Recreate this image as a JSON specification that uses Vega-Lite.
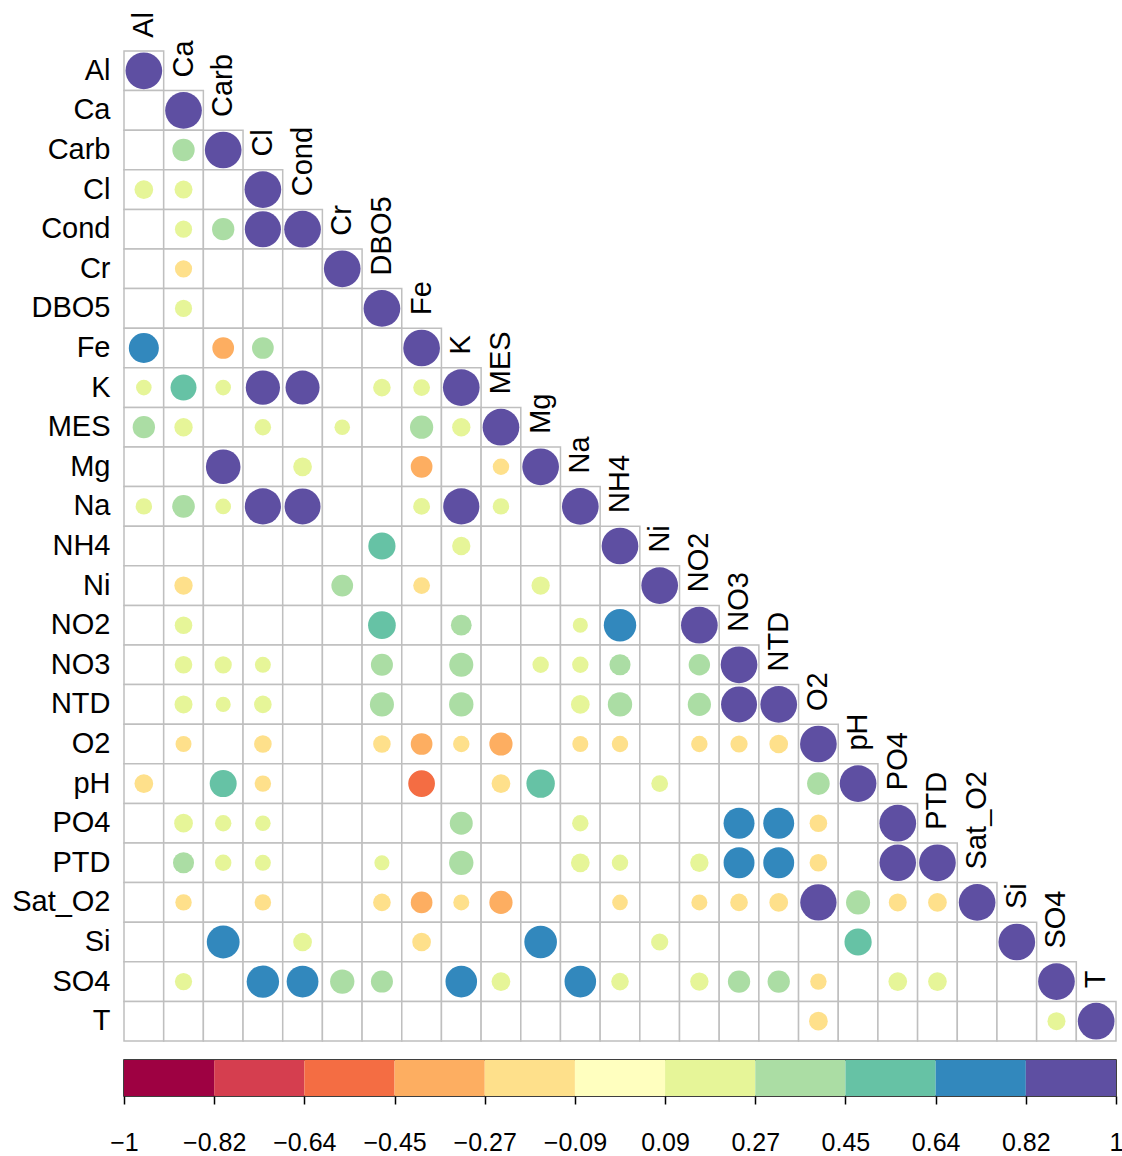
{
  "$schema": "https://vega.github.io/schema/vega-lite/v6.json",
  "background": "white",
  "padding": {"left": 11, "top": 12, "right": 0, "bottom": 0},
  "bounds": "flush",
  "spacing": 19,
  "config": {"font": "Liberation Sans", "view": {"stroke": null}},
  "datasets": {
    "cells": [
      {"r":"Al","c":"Al","v":1},
      {"r":"Ca","c":"Al"},{"r":"Ca","c":"Ca","v":1},
      {"r":"Carb","c":"Al"},{"r":"Carb","c":"Ca","v":0.37},{"r":"Carb","c":"Carb","v":1},
      {"r":"Cl","c":"Al","v":0.26},{"r":"Cl","c":"Ca","v":0.24},{"r":"Cl","c":"Carb"},{"r":"Cl","c":"Cl","v":1},
      {"r":"Cond","c":"Al"},{"r":"Cond","c":"Ca","v":0.22},{"r":"Cond","c":"Carb","v":0.37},{"r":"Cond","c":"Cl","v":0.97},{"r":"Cond","c":"Cond","v":1},
      {"r":"Cr","c":"Al"},{"r":"Cr","c":"Ca","v":-0.22},{"r":"Cr","c":"Carb"},{"r":"Cr","c":"Cl"},{"r":"Cr","c":"Cond"},{"r":"Cr","c":"Cr","v":1},
      {"r":"DBO5","c":"Al"},{"r":"DBO5","c":"Ca","v":0.22},{"r":"DBO5","c":"Carb"},{"r":"DBO5","c":"Cl"},{"r":"DBO5","c":"Cond"},{"r":"DBO5","c":"Cr"},{"r":"DBO5","c":"DBO5","v":1},
      {"r":"Fe","c":"Al","v":0.67},{"r":"Fe","c":"Ca"},{"r":"Fe","c":"Carb","v":-0.35},{"r":"Fe","c":"Cl","v":0.35},{"r":"Fe","c":"Cond"},{"r":"Fe","c":"Cr"},{"r":"Fe","c":"DBO5"},{"r":"Fe","c":"Fe","v":1},
      {"r":"K","c":"Al","v":0.18},{"r":"K","c":"Ca","v":0.5},{"r":"K","c":"Carb","v":0.18},{"r":"K","c":"Cl","v":0.87},{"r":"K","c":"Cond","v":0.86},{"r":"K","c":"Cr"},{"r":"K","c":"DBO5","v":0.23},{"r":"K","c":"Fe","v":0.21},{"r":"K","c":"K","v":1},
      {"r":"MES","c":"Al","v":0.37},{"r":"MES","c":"Ca","v":0.25},{"r":"MES","c":"Carb"},{"r":"MES","c":"Cl","v":0.2},{"r":"MES","c":"Cond"},{"r":"MES","c":"Cr","v":0.18},{"r":"MES","c":"DBO5"},{"r":"MES","c":"Fe","v":0.4},{"r":"MES","c":"K","v":0.25},{"r":"MES","c":"MES","v":1},
      {"r":"Mg","c":"Al"},{"r":"Mg","c":"Ca"},{"r":"Mg","c":"Carb","v":0.89},{"r":"Mg","c":"Cl"},{"r":"Mg","c":"Cond","v":0.26},{"r":"Mg","c":"Cr"},{"r":"Mg","c":"DBO5"},{"r":"Mg","c":"Fe","v":-0.35},{"r":"Mg","c":"K"},{"r":"Mg","c":"MES","v":-0.2},{"r":"Mg","c":"Mg","v":1},
      {"r":"Na","c":"Al","v":0.2},{"r":"Na","c":"Ca","v":0.38},{"r":"Na","c":"Carb","v":0.18},{"r":"Na","c":"Cl","v":0.97},{"r":"Na","c":"Cond","v":0.96},{"r":"Na","c":"Cr"},{"r":"Na","c":"DBO5"},{"r":"Na","c":"Fe","v":0.21},{"r":"Na","c":"K","v":0.97},{"r":"Na","c":"MES","v":0.2},{"r":"Na","c":"Mg"},{"r":"Na","c":"Na","v":1},
      {"r":"NH4","c":"Al"},{"r":"NH4","c":"Ca"},{"r":"NH4","c":"Carb"},{"r":"NH4","c":"Cl"},{"r":"NH4","c":"Cond"},{"r":"NH4","c":"Cr"},{"r":"NH4","c":"DBO5","v":0.55},{"r":"NH4","c":"Fe"},{"r":"NH4","c":"K","v":0.25},{"r":"NH4","c":"MES"},{"r":"NH4","c":"Mg"},{"r":"NH4","c":"Na"},{"r":"NH4","c":"NH4","v":1},
      {"r":"Ni","c":"Al"},{"r":"Ni","c":"Ca","v":-0.25},{"r":"Ni","c":"Carb"},{"r":"Ni","c":"Cl"},{"r":"Ni","c":"Cond"},{"r":"Ni","c":"Cr","v":0.35},{"r":"Ni","c":"DBO5"},{"r":"Ni","c":"Fe","v":-0.21},{"r":"Ni","c":"K"},{"r":"Ni","c":"MES"},{"r":"Ni","c":"Mg","v":0.25},{"r":"Ni","c":"Na"},{"r":"Ni","c":"NH4"},{"r":"Ni","c":"Ni","v":1},
      {"r":"NO2","c":"Al"},{"r":"NO2","c":"Ca","v":0.23},{"r":"NO2","c":"Carb"},{"r":"NO2","c":"Cl"},{"r":"NO2","c":"Cond"},{"r":"NO2","c":"Cr"},{"r":"NO2","c":"DBO5","v":0.57},{"r":"NO2","c":"Fe"},{"r":"NO2","c":"K","v":0.32},{"r":"NO2","c":"MES"},{"r":"NO2","c":"Mg"},{"r":"NO2","c":"Na","v":0.17},{"r":"NO2","c":"NH4","v":0.78},{"r":"NO2","c":"Ni"},{"r":"NO2","c":"NO2","v":1},
      {"r":"NO3","c":"Al"},{"r":"NO3","c":"Ca","v":0.23},{"r":"NO3","c":"Carb","v":0.22},{"r":"NO3","c":"Cl","v":0.19},{"r":"NO3","c":"Cond"},{"r":"NO3","c":"Cr"},{"r":"NO3","c":"DBO5","v":0.36},{"r":"NO3","c":"Fe"},{"r":"NO3","c":"K","v":0.43},{"r":"NO3","c":"MES"},{"r":"NO3","c":"Mg","v":0.2},{"r":"NO3","c":"Na","v":0.2},{"r":"NO3","c":"NH4","v":0.33},{"r":"NO3","c":"Ni"},{"r":"NO3","c":"NO2","v":0.34},{"r":"NO3","c":"NO3","v":1},
      {"r":"NTD","c":"Al"},{"r":"NTD","c":"Ca","v":0.24},{"r":"NTD","c":"Carb","v":0.17},{"r":"NTD","c":"Cl","v":0.23},{"r":"NTD","c":"Cond"},{"r":"NTD","c":"Cr"},{"r":"NTD","c":"DBO5","v":0.43},{"r":"NTD","c":"Fe"},{"r":"NTD","c":"K","v":0.44},{"r":"NTD","c":"MES"},{"r":"NTD","c":"Mg"},{"r":"NTD","c":"Na","v":0.26},{"r":"NTD","c":"NH4","v":0.44},{"r":"NTD","c":"Ni"},{"r":"NTD","c":"NO2","v":0.4},{"r":"NTD","c":"NO3","v":0.96},{"r":"NTD","c":"NTD","v":1},
      {"r":"O2","c":"Al"},{"r":"O2","c":"Ca","v":-0.19},{"r":"O2","c":"Carb"},{"r":"O2","c":"Cl","v":-0.23},{"r":"O2","c":"Cond"},{"r":"O2","c":"Cr"},{"r":"O2","c":"DBO5","v":-0.23},{"r":"O2","c":"Fe","v":-0.35},{"r":"O2","c":"K","v":-0.2},{"r":"O2","c":"MES","v":-0.4},{"r":"O2","c":"Mg"},{"r":"O2","c":"Na","v":-0.19},{"r":"O2","c":"NH4","v":-0.2},{"r":"O2","c":"Ni"},{"r":"O2","c":"NO2","v":-0.2},{"r":"O2","c":"NO3","v":-0.22},{"r":"O2","c":"NTD","v":-0.26},{"r":"O2","c":"O2","v":1},
      {"r":"pH","c":"Al","v":-0.26},{"r":"pH","c":"Ca"},{"r":"pH","c":"Carb","v":0.54},{"r":"pH","c":"Cl","v":-0.2},{"r":"pH","c":"Cond"},{"r":"pH","c":"Cr"},{"r":"pH","c":"DBO5"},{"r":"pH","c":"Fe","v":-0.53},{"r":"pH","c":"K"},{"r":"pH","c":"MES","v":-0.26},{"r":"pH","c":"Mg","v":0.6},{"r":"pH","c":"Na"},{"r":"pH","c":"NH4"},{"r":"pH","c":"Ni","v":0.21},{"r":"pH","c":"NO2"},{"r":"pH","c":"NO3"},{"r":"pH","c":"NTD"},{"r":"pH","c":"O2","v":0.38},{"r":"pH","c":"pH","v":1},
      {"r":"PO4","c":"Al"},{"r":"PO4","c":"Ca","v":0.26},{"r":"PO4","c":"Carb","v":0.2},{"r":"PO4","c":"Cl","v":0.18},{"r":"PO4","c":"Cond"},{"r":"PO4","c":"Cr"},{"r":"PO4","c":"DBO5"},{"r":"PO4","c":"Fe"},{"r":"PO4","c":"K","v":0.39},{"r":"PO4","c":"MES"},{"r":"PO4","c":"Mg"},{"r":"PO4","c":"Na","v":0.2},{"r":"PO4","c":"NH4"},{"r":"PO4","c":"Ni"},{"r":"PO4","c":"NO2"},{"r":"PO4","c":"NO3","v":0.71},{"r":"PO4","c":"NTD","v":0.71},{"r":"PO4","c":"O2","v":-0.23},{"r":"PO4","c":"pH"},{"r":"PO4","c":"PO4","v":1},
      {"r":"PTD","c":"Al"},{"r":"PTD","c":"Ca","v":0.33},{"r":"PTD","c":"Carb","v":0.2},{"r":"PTD","c":"Cl","v":0.19},{"r":"PTD","c":"Cond"},{"r":"PTD","c":"Cr"},{"r":"PTD","c":"DBO5","v":0.17},{"r":"PTD","c":"Fe"},{"r":"PTD","c":"K","v":0.44},{"r":"PTD","c":"MES"},{"r":"PTD","c":"Mg"},{"r":"PTD","c":"Na","v":0.26},{"r":"PTD","c":"NH4","v":0.2},{"r":"PTD","c":"Ni"},{"r":"PTD","c":"NO2","v":0.25},{"r":"PTD","c":"NO3","v":0.71},{"r":"PTD","c":"NTD","v":0.71},{"r":"PTD","c":"O2","v":-0.23},{"r":"PTD","c":"pH"},{"r":"PTD","c":"PO4","v":0.99},{"r":"PTD","c":"PTD","v":1},
      {"r":"Sat_O2","c":"Al"},{"r":"Sat_O2","c":"Ca","v":-0.2},{"r":"Sat_O2","c":"Carb"},{"r":"Sat_O2","c":"Cl","v":-0.2},{"r":"Sat_O2","c":"Cond"},{"r":"Sat_O2","c":"Cr"},{"r":"Sat_O2","c":"DBO5","v":-0.23},{"r":"Sat_O2","c":"Fe","v":-0.35},{"r":"Sat_O2","c":"K","v":-0.19},{"r":"Sat_O2","c":"MES","v":-0.4},{"r":"Sat_O2","c":"Mg"},{"r":"Sat_O2","c":"Na"},{"r":"Sat_O2","c":"NH4","v":-0.18},{"r":"Sat_O2","c":"Ni"},{"r":"Sat_O2","c":"NO2","v":-0.19},{"r":"Sat_O2","c":"NO3","v":-0.23},{"r":"Sat_O2","c":"NTD","v":-0.26},{"r":"Sat_O2","c":"O2","v":0.98},{"r":"Sat_O2","c":"pH","v":0.43},{"r":"Sat_O2","c":"PO4","v":-0.24},{"r":"Sat_O2","c":"PTD","v":-0.26},{"r":"Sat_O2","c":"Sat_O2","v":1},
      {"r":"Si","c":"Al"},{"r":"Si","c":"Ca"},{"r":"Si","c":"Carb","v":0.8},{"r":"Si","c":"Cl"},{"r":"Si","c":"Cond","v":0.26},{"r":"Si","c":"Cr"},{"r":"Si","c":"DBO5"},{"r":"Si","c":"Fe","v":-0.26},{"r":"Si","c":"K"},{"r":"Si","c":"MES"},{"r":"Si","c":"Mg","v":0.79},{"r":"Si","c":"Na"},{"r":"Si","c":"NH4"},{"r":"Si","c":"Ni","v":0.22},{"r":"Si","c":"NO2"},{"r":"Si","c":"NO3"},{"r":"Si","c":"NTD"},{"r":"Si","c":"O2"},{"r":"Si","c":"pH","v":0.55},{"r":"Si","c":"PO4"},{"r":"Si","c":"PTD"},{"r":"Si","c":"Sat_O2"},{"r":"Si","c":"Si","v":1},
      {"r":"SO4","c":"Al"},{"r":"SO4","c":"Ca","v":0.22},{"r":"SO4","c":"Carb"},{"r":"SO4","c":"Cl","v":0.78},{"r":"SO4","c":"Cond","v":0.75},{"r":"SO4","c":"Cr","v":0.44},{"r":"SO4","c":"DBO5","v":0.36},{"r":"SO4","c":"Fe"},{"r":"SO4","c":"K","v":0.74},{"r":"SO4","c":"MES","v":0.26},{"r":"SO4","c":"Mg"},{"r":"SO4","c":"Na","v":0.74},{"r":"SO4","c":"NH4","v":0.23},{"r":"SO4","c":"Ni"},{"r":"SO4","c":"NO2","v":0.25},{"r":"SO4","c":"NO3","v":0.37},{"r":"SO4","c":"NTD","v":0.37},{"r":"SO4","c":"O2","v":-0.2},{"r":"SO4","c":"pH"},{"r":"SO4","c":"PO4","v":0.26},{"r":"SO4","c":"PTD","v":0.26},{"r":"SO4","c":"Sat_O2"},{"r":"SO4","c":"Si"},{"r":"SO4","c":"SO4","v":1},
      {"r":"T","c":"Al"},{"r":"T","c":"Ca"},{"r":"T","c":"Carb"},{"r":"T","c":"Cl"},{"r":"T","c":"Cond"},{"r":"T","c":"Cr"},{"r":"T","c":"DBO5"},{"r":"T","c":"Fe"},{"r":"T","c":"K"},{"r":"T","c":"MES"},{"r":"T","c":"Mg"},{"r":"T","c":"Na"},{"r":"T","c":"NH4"},{"r":"T","c":"Ni"},{"r":"T","c":"NO2"},{"r":"T","c":"NO3"},{"r":"T","c":"NTD"},{"r":"T","c":"O2","v":-0.26},{"r":"T","c":"pH"},{"r":"T","c":"PO4"},{"r":"T","c":"PTD"},{"r":"T","c":"Sat_O2"},{"r":"T","c":"Si"},{"r":"T","c":"SO4","v":0.24},{"r":"T","c":"T","v":1}
    ],
    "bar": [
      {"lo":-1,"hi":-0.8182,"mid":-0.9091},
      {"lo":-0.8182,"hi":-0.6364,"mid":-0.7273},
      {"lo":-0.6364,"hi":-0.4545,"mid":-0.5455},
      {"lo":-0.4545,"hi":-0.2727,"mid":-0.3636},
      {"lo":-0.2727,"hi":-0.0909,"mid":-0.1818},
      {"lo":-0.0909,"hi":0.0909,"mid":0},
      {"lo":0.0909,"hi":0.2727,"mid":0.1818},
      {"lo":0.2727,"hi":0.4545,"mid":0.3636},
      {"lo":0.4545,"hi":0.6364,"mid":0.5455},
      {"lo":0.6364,"hi":0.8182,"mid":0.7273},
      {"lo":0.8182,"hi":1,"mid":0.9091}
    ]
  },
  "vconcat": [
    {
      "width": 992,
      "height": 990,
      "data": {"name": "cells"},
      "encoding": {
        "x": {"field": "c", "type": "nominal", "scale": {"domain": ["Al","Ca","Carb","Cl","Cond","Cr","DBO5","Fe","K","MES","Mg","Na","NH4","Ni","NO2","NO3","NTD","O2","pH","PO4","PTD","Sat_O2","Si","SO4","T"], "paddingInner": 0, "paddingOuter": 0}, "axis": null},
        "y": {"field": "r", "type": "nominal", "scale": {"domain": ["Al","Ca","Carb","Cl","Cond","Cr","DBO5","Fe","K","MES","Mg","Na","NH4","Ni","NO2","NO3","NTD","O2","pH","PO4","PTD","Sat_O2","Si","SO4","T"], "paddingInner": 0, "paddingOuter": 0}, "axis": {"title": null, "ticks": false, "domain": false, "grid": false, "labelFontSize": 29, "labelColor": "black", "labelPadding": 14, "labelFont": "Liberation Sans"}}
      },
      "layer": [
        {"mark": {"type": "rect", "fill": "white", "stroke": "#bfbfbf", "strokeWidth": 1.5}},
        {
          "transform": [{"filter": "isValid(datum.v)"}],
          "mark": {"type": "circle", "opacity": 1, "strokeWidth": 0},
          "encoding": {
            "size": {"field": "v", "type": "quantitative", "scale": {"type": "linear", "domain": [-1, 0, 1], "range": [1347, 0, 1347], "zero": false}, "legend": null},
            "color": {"field": "v", "type": "quantitative", "scale": {"type": "threshold", "domain": [-0.8182, -0.6364, -0.4545, -0.2727, -0.0909, 0.0909, 0.2727, 0.4545, 0.6364, 0.8182], "range": ["#9E0142","#D53E4F","#F46D43","#FDAE61","#FEE08B","#FFFFBF","#E6F598","#ABDDA4","#66C2A5","#3288BD","#5E4FA2"]}, "legend": null}
          }
        },
        {
          "transform": [{"filter": "datum.r === datum.c"}],
          "mark": {"type": "text", "angle": 270, "align": "left", "baseline": "middle", "dx": 33, "fontSize": 29, "font": "Liberation Sans", "color": "black"},
          "encoding": {"text": {"field": "c"}}
        }
      ]
    },
    {
      "width": 992,
      "height": 36,
      "data": {"name": "bar"},
      "view": {"stroke": "black", "strokeWidth": 1.5},
      "mark": {"type": "rect"},
      "encoding": {
        "x": {"field": "lo", "type": "quantitative", "scale": {"domain": [-1, 1], "nice": false, "zero": false}, "axis": {"title": null, "values": [-1, -0.8182, -0.6364, -0.4545, -0.2727, -0.0909, 0.0909, 0.2727, 0.4545, 0.6364, 0.8182, 1], "format": ".2~f", "tickSize": 8, "tickColor": "black", "tickWidth": 1.5, "domain": false, "grid": false, "labelFontSize": 25, "labelColor": "black", "labelPadding": 26, "labelFlush": false, "labelOverlap": false, "labelFont": "Liberation Sans"}},
        "x2": {"field": "hi"},
        "color": {"field": "mid", "type": "quantitative", "scale": {"type": "threshold", "domain": [-0.8182, -0.6364, -0.4545, -0.2727, -0.0909, 0.0909, 0.2727, 0.4545, 0.6364, 0.8182], "range": ["#9E0142","#D53E4F","#F46D43","#FDAE61","#FEE08B","#FFFFBF","#E6F598","#ABDDA4","#66C2A5","#3288BD","#5E4FA2"]}, "legend": null}
      }
    }
  ]
}
